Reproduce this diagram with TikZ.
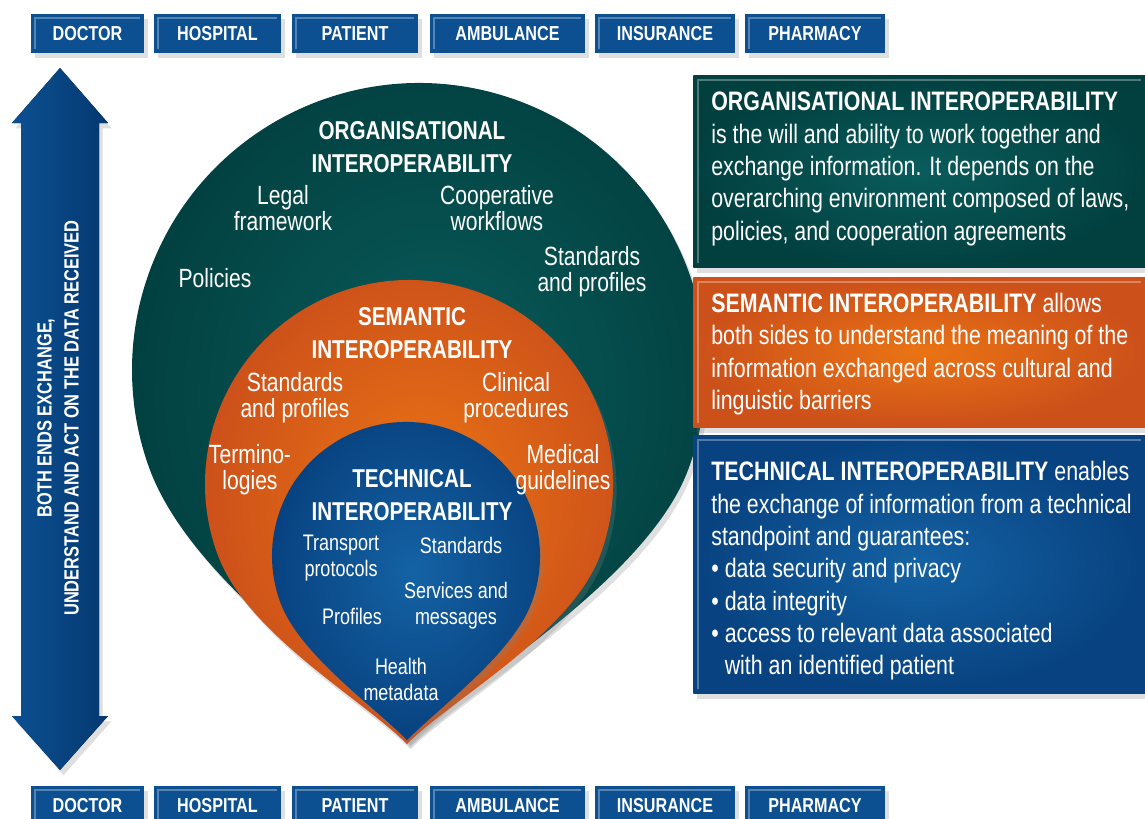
\documentclass[tikz,border=0pt]{standalone}
\usepackage{fontspec}
\setmainfont{Liberation Sans}[FakeStretch=0.8]
\usepackage{tikz}
\usetikzlibrary{shadows}

\definecolor{tabblue}{RGB}{12,80,146}
\definecolor{tabdark}{RGB}{4,56,112}
\definecolor{orggreen}{RGB}{10,92,92}
\definecolor{orgdark}{RGB}{2,64,64}
\definecolor{semorange}{RGB}{234,116,20}
\definecolor{semdark}{RGB}{204,80,26}
\definecolor{techblue}{RGB}{20,98,164}
\definecolor{techdark}{RGB}{8,66,128}

\begin{document}
\begin{tikzpicture}[
            x = 0.02cm, y = 0.02cm, % one unit = one pixel of the sketch
            bevel/.style = {path picture={\draw[white, opacity=0.3, line width=1.2pt]
            ([shift={(2.5pt,2.5pt)}]path picture bounding box.south west) |-
            ([shift={(-2.5pt,-2.5pt)}]path picture bounding box.north east);}},
            shade/.style = {drop shadow={opacity=0.25, shadow xshift=2pt, shadow yshift=-3pt}},
            tab/.style = {rectangle, fill=tabblue, text=white, bevel, shade,
            font=\fontsize{11.5}{12}\selectfont\bfseries,
            minimum height=0.78cm, inner sep=0pt},
            head/.style = {text=white, align=center, font=\fontsize{14.7}{18.8}\selectfont\bfseries},
            lbl/.style = {text=white, align=center, font=\fontsize{15}{14.8}\selectfont},
            small/.style = {text=white, align=center, font=\fontsize{12.8}{14.8}\selectfont},
            infobox/.style = {rectangle, anchor=north west, bevel, shade,
            minimum width=9.04cm, inner sep=0pt},
            infotext/.style = {anchor=west, text=white, align=left, inner sep=0pt,
            font=\fontsize{15.2}{18.4}\selectfont}
            ]
            \useasboundingbox (0,0) rectangle (1145,-818);

            % top row
            \node[tab, minimum width=2.26cm] (1) at (87.5,-33.5) {DOCTOR};
            \node[tab, minimum width=2.54cm] (2) at (217.5,-33.5) {HOSPITAL};
            \node[tab, minimum width=2.52cm] (3) at (355,-33.5) {PATIENT};
            \node[tab, minimum width=3.10cm] (4) at (507.5,-33.5) {AMBULANCE};
            \node[tab, minimum width=2.80cm] (5) at (665,-33.5) {INSURANCE};
            \node[tab, minimum width=2.80cm] (6) at (815,-33.5) {PHARMACY};

            % bottom row
            \node[tab, minimum width=2.26cm] (7) at (87.5,-805.5) {DOCTOR};
            \node[tab, minimum width=2.54cm] (8) at (217.5,-805.5) {HOSPITAL};
            \node[tab, minimum width=2.52cm] (9) at (355,-805.5) {PATIENT};
            \node[tab, minimum width=3.10cm] (10) at (507.5,-805.5) {AMBULANCE};
            \node[tab, minimum width=2.80cm] (11) at (665,-805.5) {INSURANCE};
            \node[tab, minimum width=2.80cm] (12) at (815,-805.5) {PHARMACY};

            % double arrow
            \fill[left color=tabblue, right color=tabdark, shade]
            (60,-68) -- (108,-123) -- (99,-123) -- (99,-716) -- (108,-716) -- (60,-770)
            -- (12,-716) -- (21,-716) -- (21,-123) -- (12,-123) -- cycle;
            \node[text=white, rotate=90, align=center,
            font=\fontsize{11.7}{15.4}\selectfont\bfseries] (13) at (58,-418)
            {BOTH ENDS EXCHANGE,\\UNDERSTAND AND ACT ON THE DATA RECEIVED};

            % drops
            \path[inner color=orggreen, outer color=orgdark, shade]
            (688.7,-468.2) arc[start angle=-20, end angle=200, radius=287]
            .. controls +(290:120) and +(135:80) .. (407,-742)
            .. controls +(45:80) and +(250:120) .. (688.7,-468.2) -- cycle;
            \path[inner color=semorange, outer color=semdark, shade]
            (600.7,-553.8) arc[start angle=-20, end angle=200, radius=204]
            .. controls +(290:85) and +(135:65) .. (407,-744)
            .. controls +(45:65) and +(250:85) .. (600.7,-553.8) -- cycle;
            \path[inner color=techblue, outer color=techdark, shade]
            (531.9,-601.8) arc[start angle=-20, end angle=200, radius=134]
            .. controls +(290:55) and +(135:50) .. (407,-740)
            .. controls +(45:50) and +(250:55) .. (531.9,-601.8) -- cycle;

            \node[head] (14) at (412,-147) {ORGANISATIONAL\\INTEROPERABILITY};
            \node[lbl] (15) at (283,-208) {Legal\\framework};
            \node[lbl] (16) at (497,-208) {Cooperative\\workflows};
            \node[lbl] (17) at (215,-278) {Policies};
            \node[lbl] (18) at (592,-272) {Standards\\and profiles};

            \node[head] (19) at (412,-333) {SEMANTIC\\INTEROPERABILITY};
            \node[lbl] (20) at (295,-398) {Standards\\and profiles};
            \node[lbl] (21) at (516,-398) {Clinical\\procedures};
            \node[lbl] (22) at (250,-470) {Termino-\\logies};
            \node[lbl] (23) at (563,-470) {Medical\\guidelines};

            \node[head] (24) at (412,-495) {TECHNICAL\\INTEROPERABILITY};
            \node[small] (25) at (341,-558) {Transport\\protocols};
            \node[small] (26) at (461,-545) {Standards};
            \node[small] (27) at (456,-606) {Services and\\messages};
            \node[small] (28) at (352,-616) {Profiles};
            \node[small] (29) at (401,-679) {Health\\metadata};

            % boxes on the right
            \node[infobox, minimum height=3.84cm, inner color=orggreen, outer color=orgdark]
            (30) at (693,-75) {};
            \node[infobox, minimum height=3.0cm, inner color=semorange, outer color=semdark]
            (31) at (693,-277) {};
            \node[infobox, minimum height=5.16cm, inner color=techblue, outer color=techdark]
            (32) at (693,-435) {};

            \node[infotext] (33) at (711,-169) {\textbf{ORGANISATIONAL INTEROPERABILITY}\\
            is the will and ability to work together and\\
            exchange information. It depends on the\\
            overarching environment composed of laws,\\
            policies, and cooperation agreements};
            \node[infotext] (34) at (711,-354) {\textbf{SEMANTIC INTEROPERABILITY} allows\\
            both sides to understand the meaning of the\\
            information exchanged across cultural and\\
            linguistic barriers};
            \node[infotext] (35) at (711,-571) {\textbf{TECHNICAL INTEROPERABILITY} enables\\
            the exchange of information from a technical\\
            standpoint and guarantees:\\
            \textbullet\ data security and privacy\\
            \textbullet\ data integrity\\
            \textbullet\ access to relevant data associated\\
            \hphantom{\textbullet\ }with an identified patient};
        \end{tikzpicture}
\end{document}
